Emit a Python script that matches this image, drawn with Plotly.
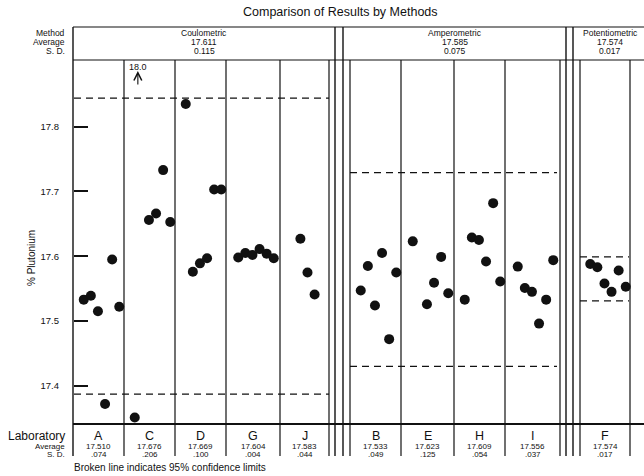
import plotly.graph_objects as go

# ---------------- data ----------------
title_text = "Comparison of Results by Methods"
labs = ["A", "C", "D", "G", "J", "B", "E", "H", "I", "F"]
vals_A = [17.533, 17.539, 17.515, 17.372, 17.595, 17.522]
vals_C = [17.351, 18.0, 17.656, 17.666, 17.733, 17.653]
vals_D = [17.835, 17.576, 17.589, 17.597, 17.703, 17.703]
vals_G = [17.598, 17.605, 17.602, 17.611, 17.604, 17.597]
vals_J = [17.627, 17.575, 17.541]
vals_B = [17.547, 17.585, 17.524, 17.605, 17.472, 17.575]
vals_E = [17.623, None, 17.526, 17.559, 17.599, 17.543]
vals_H = [17.533, 17.629, 17.625, 17.592, 17.682, 17.561]
vals_I = [17.584, 17.551, 17.545, 17.496, 17.533, 17.594]
vals_F = [17.588, 17.583, 17.558, 17.545, 17.578, 17.553]
lab_values = [vals_A, vals_C, vals_D, vals_G, vals_J,
              vals_B, vals_E, vals_H, vals_I, vals_F]
lab_avg = ["17.510", "17.676", "17.669", "17.604", "17.583",
           "17.533", "17.623", "17.609", "17.556", "17.574"]
lab_sd = [".074", ".206", ".100", ".004", ".044",
          ".049", ".125", ".054", ".037", ".017"]

methods = ["Coulometric", "Amperometric", "Potentiometric"]
method_avg = ["17.611", "17.585", "17.574"]
method_sd = ["0.115", "0.075", "0.017"]
conf_low = [17.387, 17.430, 17.531]
conf_high = [17.844, 17.729, 17.599]

y_ticks = [17.4, 17.5, 17.6, 17.7, 17.8]
y_tick_text = ["17.4", "17.5", "17.6", "17.7", "17.8"]
y_title = "% Plutonium"
footnote = "Broken line indicates 95% confidence limits"

# ---------------- layout geometry (pixels) ----------------
W, H = 644, 476
PL, PT, PB = 73, 60, 424
HEAD_TOP = 27
TABLE_BOTTOM = 456
Y_RANGE = [17.341, 17.903]
col_edges = [(73, 124), (124, 175), (175, 226), (226, 280), (280, 329),
             (350, 401), (401, 454), (454, 505), (505, 560), (580, 630)]
method_boxes = [(73, 335), (343, 566), (573, 647)]
method_gap_lines = [335, 343, 566, 573]
conf_spans = [(74, 329), (350, 557), (580, 629)]
SLOT = 7.1
SHIFT = 3
FONT = "Liberation Sans, Arial, sans-serif"
INK = "#111111"


def py(p):
    return (PB - p) / (PB - PT)


fig = go.Figure()

xs, ys = [], []
offscale = []
for (l, r), vals in zip(col_edges, lab_values):
    n = len(vals)
    c = (l + r) / 2 + SHIFT
    for i, v in enumerate(vals):
        if v is None:
            continue
        x = c + (i - (n - 1) / 2) * SLOT
        if v > Y_RANGE[1]:
            offscale.append((x, v))
        else:
            xs.append(x)
            ys.append(v)

fig.add_trace(go.Scatter(x=xs, y=ys, mode="markers",
                         marker=dict(size=10, color=INK),
                         showlegend=False, hoverinfo="y"))

shapes = []
# confidence limits
for (l, r), lo, hi in zip(conf_spans, conf_low, conf_high):
    for v in (lo, hi):
        shapes.append(dict(type="line", xref="x", yref="y", x0=l, x1=r, y0=v, y1=v,
                           line=dict(color=INK, width=1.3, dash="7px,5px")))
# lab column lines (plot + table)
edges = sorted(set([e for pair in col_edges for e in pair]) - {73})
for e in edges:
    shapes.append(dict(type="line", xref="x", yref="paper", x0=e, x1=e,
                       y0=py(TABLE_BOTTOM), y1=py(PT), line=dict(color=INK, width=1.2)))
# method separators (full height)
for e in method_gap_lines + [PL]:
    shapes.append(dict(type="line", xref="x", yref="paper", x0=e, x1=e,
                       y0=py(TABLE_BOTTOM), y1=py(HEAD_TOP),
                       line=dict(color=INK, width=1.4)))
# header box horizontal lines
for yy in (HEAD_TOP, PT):
    shapes.append(dict(type="line", xref="x", yref="paper", x0=PL, x1=W, y0=py(yy), y1=py(yy),
                       line=dict(color=INK, width=1.2)))
# thick bottom line
shapes.append(dict(type="line", xref="x", yref="paper", x0=PL, x1=W, y0=0, y1=0,
                   line=dict(color=INK, width=2.2)))

ann = []


def text(x, y, s, size, xanchor="center", **kw):
    ann.append(dict(x=x, y=py(y), xref="x", yref="paper", text=s, showarrow=False,
                    xanchor=xanchor, yanchor="middle", borderpad=0,
                    font=dict(size=size, color=INK, family=FONT), **kw))


text(340, 12, title_text, 12.5)
for lbl, yy in (("Method", 33), ("Average", 42), ("S. D.", 51)):
    text(66, yy, lbl, 8.5, xanchor="right")
for (l, r), m, a, s in zip(method_boxes, methods, method_avg, method_sd):
    cx = (l + r) / 2
    text(cx, 33, m, 8.5)
    text(cx, 42, a, 8.5)
    text(cx, 51, s, 8.5)

text(66, 436, "Laboratory", 12, xanchor="right")
text(66, 446, "Average", 8, xanchor="right")
text(66, 454, "S. D.", 8, xanchor="right")
for (l, r), lab, a, s in zip(col_edges, labs, lab_avg, lab_sd):
    cx = (l + r) / 2
    text(cx, 436, lab, 12.5)
    text(cx, 446, a, 8)
    text(cx, 454, s, 8)

text(73, 467, footnote, 10, xanchor="left")
text(31, 258, y_title, 10, textangle=-90)

# off-scale value arrow
for x, v in offscale:
    text(x - 4, 67, f"{v:.1f}", 9)
    ann.append(dict(x=x - 4, y=Y_RANGE[1] - 11 / 647.5, xref="x", yref="y",
                    ax=0, ay=16, text=" ", showarrow=True, arrowhead=5,
                    arrowsize=1.4, arrowwidth=1.1, arrowcolor=INK, standoff=0,
                    font=dict(size=2)))

fig.update_layout(
    width=W, height=H,
    margin=dict(l=0, r=0, t=PT, b=H - PB, pad=0),
    paper_bgcolor="white", plot_bgcolor="white",
    shapes=shapes, annotations=ann,
    xaxis=dict(range=[0, W], visible=False, domain=[0, 1]),
    yaxis=dict(range=Y_RANGE, anchor="free", position=PL / W,
               tickvals=y_ticks, ticktext=y_tick_text,
               ticks="inside", ticklen=14, tickwidth=2, tickcolor=INK,
               showline=False, showgrid=False, zeroline=False,
               ticklabelstandoff=14,
               tickfont=dict(size=9.5, color=INK, family=FONT)),
    font=dict(family=FONT, color=INK),
)

fig.write_html("out.html", config={"displayModeBar": False},
               post_script="document.body.style.margin='0';document.body.style.overflow='hidden';")
